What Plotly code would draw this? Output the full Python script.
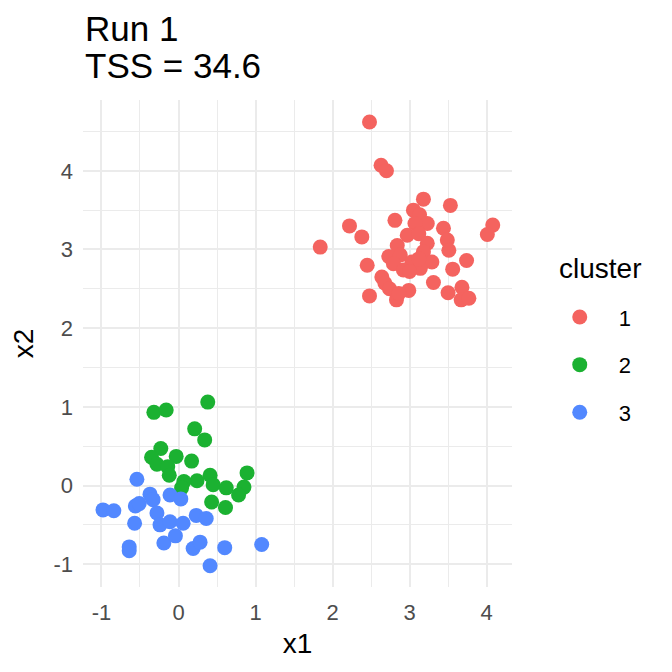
import plotly.graph_objects as go

# cluster 1
x1_c1 = [2.48, 2.63, 2.70, 2.22, 2.38, 1.84, 4.08, 4.01, 2.45, 2.64, 2.68, 2.74,
         2.83, 2.48, 2.99, 3.31, 3.50, 3.68, 3.67, 3.77, 3.74, 3.56,
         3.18, 3.53, 3.05, 3.13, 2.81, 3.23, 3.07, 3.44, 2.97, 3.12, 3.49, 3.23,
         2.84, 3.51, 2.73, 2.88, 3.18, 3.29, 3.03, 2.79, 2.92, 3.14, 2.86,
         3.12, 3.00]
x2_c1 = [4.62, 4.07, 4.00, 3.30, 3.16, 3.03, 3.31, 3.19, 2.80, 2.65, 2.57, 2.50,
         2.36, 2.41, 2.48, 2.58, 2.45, 2.52, 2.36, 2.38, 2.86, 2.75,
         3.64, 3.56, 3.50, 3.44, 3.37, 3.33, 3.33, 3.27, 3.18, 3.20, 3.12, 3.08,
         3.05, 2.99, 2.91, 2.93, 2.97, 2.84, 2.84, 2.82, 2.74, 2.76, 2.44,
         2.88, 2.72]

# cluster 2
x1_c2 = [-0.32, -0.16, 0.38, 0.21, 0.34, -0.23, -0.35, -0.03, 0.17, -0.28, -0.14,
         -0.12, 0.89, 0.41, 0.24, 0.07, 0.04, 0.45, 0.62, 0.85, 0.78, 0.43, 0.61]
x2_c2 = [0.93, 0.96, 1.06, 0.72, 0.58, 0.47, 0.36, 0.37, 0.31, 0.27, 0.24,
         0.13, 0.16, 0.13, 0.06, 0.05, -0.03, 0.01, -0.03, -0.02, -0.12, -0.21, -0.28]

# cluster 3
x1_c3 = [-0.54, -0.98, -0.84, -0.37, -0.33, -0.56, -0.51, -0.11, 0.03, -0.28, -0.57,
         -0.24, -0.11, 0.06, 0.23, 0.36, -0.19, -0.04, -0.64, -0.64, 0.19, 0.28,
         0.60, 1.08, 0.41]
x2_c3 = [0.08, -0.31, -0.32, -0.11, -0.18, -0.26, -0.23, -0.12, -0.17, -0.35, -0.48,
         -0.50, -0.46, -0.48, -0.38, -0.42, -0.73, -0.64, -0.78, -0.83, -0.80, -0.72,
         -0.79, -0.75, -1.02]

clusters = ["1", "2", "3"]
colors = ["#F4635F", "#1BB131", "#5288FF"]

x_ticks = [-1, 0, 1, 2, 3, 4]
x_ticktext = ["-1", "0", "1", "2", "3", "4"]
y_ticks = [-1, 0, 1, 2, 3, 4]
y_ticktext = ["-1", "0", "1", "2", "3", "4"]

title_lines = ["Run 1", "TSS = 34.6"]
legend_title = "cluster"

FONT = "Liberation Sans"

fig = go.Figure()
for name, xs, ys, col in zip(
    clusters, [x1_c1, x1_c2, x1_c3], [x2_c1, x2_c2, x2_c3], colors
):
    fig.add_trace(
        go.Scatter(
            x=xs,
            y=ys,
            mode="markers",
            name=name,
            legendgroup=name,
            marker=dict(color=col, size=15, line=dict(width=0)),
        )
    )

axis_style = dict(
    showgrid=True,
    gridcolor="#EBEBEB",
    gridwidth=2,
    zeroline=False,
    showline=False,
    tickfont=dict(family=FONT, size=22, color="#4D4D4D"),
    minor=dict(dtick=0.5, showgrid=True, gridcolor="#EBEBEB", gridwidth=1),
    title_font=dict(family=FONT, size=28, color="black"),
)

fig.update_xaxes(
    range=[-1.24, 4.33], tickvals=x_ticks, ticktext=x_ticktext,
    ticklabelstandoff=10, title_text="x1", title_standoff=9, **axis_style
)
fig.update_yaxes(
    range=[-1.29, 4.90], tickvals=y_ticks, ticktext=y_ticktext,
    ticklabelstandoff=9, title_text="x2", title_standoff=11, **axis_style
)

# two-line title, left aligned with the panel
for text, ypos in zip(title_lines, [1.146, 1.070]):
    fig.add_annotation(
        text=text, xref="paper", yref="paper", x=0, y=ypos,
        xanchor="left", yanchor="middle", showarrow=False,
        font=dict(family=FONT, size=35, color="black"),
    )

# legend title
fig.add_annotation(
    text=legend_title, xref="paper", yref="paper", x=1.105, y=0.655,
    xanchor="left", yanchor="middle", showarrow=False,
    font=dict(family=FONT, size=28, color="black"),
)

fig.update_layout(
    width=672,
    height=672,
    plot_bgcolor="white",
    paper_bgcolor="white",
    margin=dict(l=75, r=168, t=92, b=93, autoexpand=False),
    legend=dict(
        font=dict(family=FONT, size=22, color="black"),
        x=1.067,
        xanchor="left",
        y=0.597,
        yanchor="top",
        tracegroupgap=16,
        itemwidth=68,
    ),
)

fig.write_html("out.html")
